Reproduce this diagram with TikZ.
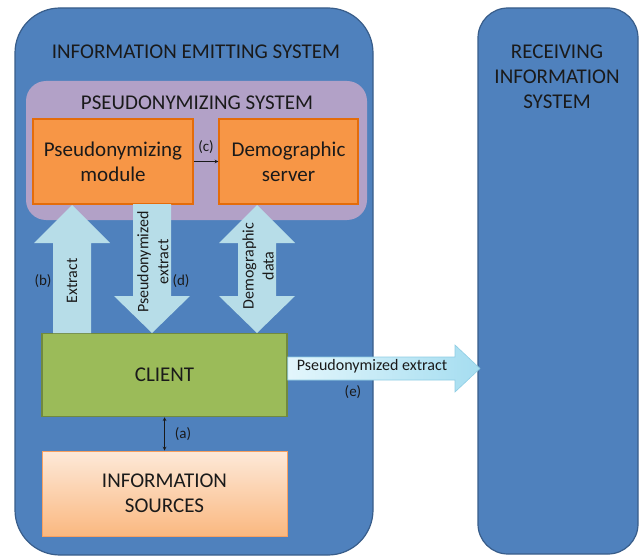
\documentclass[tikz,border=0pt]{standalone}
\usepackage{fontspec}
\setmainfont{Carlito}
\begin{document}
\begin{tikzpicture}[x=1pt,y=-1pt,
  bigsys/.style={fill=sysblue,draw=sysborder,line width=1.2pt},
  orangebox/.style={fill=modorange,draw=modborder,line width=1.5pt},
  blockarrow/.style={fill=arrowblue,draw=none},
  txt/.style={font=\fontsize{21}{25}\selectfont,text=txtc,align=center,inner sep=0pt},
  smalltxt/.style={font=\fontsize{16}{20}\selectfont,text=txtc,align=center,inner sep=0pt},
  lbl/.style={font=\fontsize{15}{16}\selectfont,text=txtc,inner sep=0pt}]
\definecolor{sysblue}{HTML}{4F81BD}
\definecolor{sysborder}{HTML}{385D8A}
\definecolor{purplebg}{HTML}{B2A1C7}
\definecolor{modorange}{HTML}{F79646}
\definecolor{modborder}{HTML}{E46C0A}
\definecolor{arrowblue}{HTML}{B7DDE8}
\definecolor{clientgreen}{HTML}{9BBB59}
\definecolor{clientborder}{HTML}{71893F}
\definecolor{srctop}{HTML}{FDE9D9}
\definecolor{srcbot}{HTML}{FAB880}
\definecolor{srcborder}{HTML}{F8A060}
\definecolor{eleft}{HTML}{E3F6FC}
\definecolor{eright}{HTML}{A5DDF0}
\definecolor{eborder}{HTML}{8FCDE3}
\definecolor{txtc}{HTML}{1A1A1A}
\useasboundingbox (0,0) rectangle (639,556);
% outer systems
\draw[bigsys,rounded corners=45pt] (15,8) rectangle (373,555);
\node[txt] (emitT) at (196,52) {INFORMATION EMITTING SYSTEM};
\draw[bigsys,rounded corners=30pt] (478,8) rectangle (638,554);
\node[txt] (recvT) at (557,77) {RECEIVING\\INFORMATION\\SYSTEM};
% pseudonymizing system
\fill[purplebg,rounded corners=20pt] (26,81) rectangle (367,220);
\node[txt] (pseT) at (197,103) {PSEUDONYMIZING SYSTEM};
\node[orangebox,minimum width=160pt,minimum height=85pt,txt] (mod) at (113,161.5) {Pseudonymizing\\module};
\node[orangebox,minimum width=139pt,minimum height=85pt,txt] (dem) at (288.5,161.5) {Demographic\\server};
\draw[->,>=stealth,txtc,line width=0.6pt] (mod.east) -- (dem.west) node[lbl,midway,above=8pt] (lc) {(c)};
% client and sources
\node[fill=clientgreen,draw=clientborder,line width=1.5pt,minimum width=245pt,minimum height=83pt,txt] (cli) at (164.5,375) {CLIENT};
\node[top color=srctop,bottom color=srcbot,draw=srcborder,line width=1pt,minimum width=245pt,minimum height=85pt,txt] (src) at (164.5,493.5) {INFORMATION\\SOURCES};
\draw[<->,>=stealth,txtc,line width=0.7pt] (cli.south) -- (src.north) node[lbl,midway,right=10pt] (la) {(a)};
% block arrows
\fill[blockarrow] (53,333) -- (53,243) -- (34,243) -- (72,205) -- (110,243) -- (91,243) -- (91,333) -- cycle;
\fill[blockarrow] (133,204) -- (171,204) -- (171,296) -- (190,296) -- (152,333) -- (114,296) -- (133,296) -- cycle;
\fill[blockarrow] (257,205) -- (295,243) -- (276,243) -- (276,296) -- (295,296) -- (257,333) -- (219,296) -- (238,296) -- (238,243) -- (219,243) -- cycle;
\node[smalltxt,rotate=90] (tb) at (72,281) {Extract};
\node[lbl] (lb) at (43,281) {(b)};
\node[smalltxt,rotate=90] (td) at (153,262) {Pseudonymized\\extract};
\node[lbl] (ld) at (181,281) {(d)};
\node[smalltxt,rotate=90] (tdd) at (258,266) {Demographic\\data};
% arrow e
\draw[left color=eleft,right color=eright,draw=eborder,line width=0.6pt]
  (cli.east |- 0,357) -- (455,357) -- (455,345) -- (480,368.5) -- (455,392) -- (455,380) -- (cli.east |- 0,380) -- cycle;
\node[smalltxt] (te) at (372,366) {Pseudonymized extract};
\node[lbl] (le) at (353,392) {(e)};
\end{tikzpicture}
\end{document}
